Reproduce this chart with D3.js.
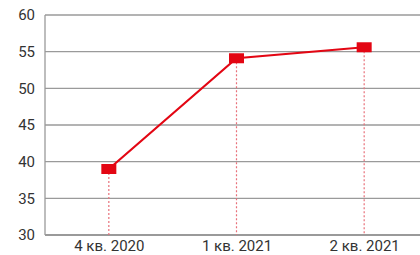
<!DOCTYPE html>
<html>
<head>
<meta charset="utf-8">
<script src="https://cdn.jsdelivr.net/npm/d3@7"></script>
<style>
  body { margin: 0; background: #fff; }
  text { font-family: "Roboto", "DejaVu Sans", sans-serif; fill: #333; }
</style>
</head>
<body>
<div id="chart"></div>
<script>
var quarters = ["4 кв. 2020", "1 кв. 2021", "2 кв. 2021"];
var values = [39.0, 54.1, 55.6];
var yTicks = [30, 35, 40, 45, 50, 55, 60];

var svgWidth = 420;
var svgHeight = 255;
var margin = { top: 15, right: -8, bottom: 20, left: 45 };
var width = svgWidth - margin.left - margin.right;
var height = svgHeight - margin.top - margin.bottom;

var svg = d3.select("#chart")
  .append("svg")
  .attr("width", svgWidth)
  .attr("height", svgHeight);

var chartGroup = svg.append("g")
  .attr("transform", `translate(${margin.left}, ${margin.top})`);

var xScale = d3.scalePoint()
  .domain(quarters)
  .range([0, width])
  .padding(0.5);

var yScale = d3.scaleLinear()
  .domain([30, 60])
  .range([height, 0]);

// gridlines
chartGroup.append("g")
  .selectAll("line")
  .data(yTicks)
  .enter()
  .append("line")
  .attr("x1", 0)
  .attr("x2", width)
  .attr("y1", d => yScale(d))
  .attr("y2", d => yScale(d))
  .attr("stroke", "#9a9a9a")
  .attr("stroke-width", d => d === 30 ? 2 : 1.3);

// left axis line
chartGroup.append("line")
  .attr("x1", 0).attr("x2", 0)
  .attr("y1", yScale(60)).attr("y2", yScale(30))
  .attr("stroke", "#9a9a9a")
  .attr("stroke-width", 1.3);

// y labels
var leftAxis = d3.axisLeft(yScale).tickValues(yTicks).tickSize(0).tickPadding(10);
var yAxisG = chartGroup.append("g").call(leftAxis);
yAxisG.select(".domain").remove();
yAxisG.selectAll("text").style("font-size", "15px").attr("fill", "#333");

// x labels
var bottomAxis = d3.axisBottom(xScale).tickSize(0).tickPadding(5);
var xAxisG = chartGroup.append("g")
  .attr("transform", `translate(0, ${height})`)
  .call(bottomAxis);
xAxisG.select(".domain").remove();
xAxisG.selectAll("text").style("font-size", "15px").attr("fill", "#333");

// dotted drop lines
chartGroup.selectAll(".drop")
  .data(values)
  .enter()
  .append("line")
  .attr("class", "drop")
  .attr("x1", (d, i) => xScale(quarters[i]))
  .attr("x2", (d, i) => xScale(quarters[i]))
  .attr("y1", d => yScale(d))
  .attr("y2", height)
  .attr("stroke", "#e8707a")
  .attr("stroke-width", 1.2)
  .attr("stroke-dasharray", "2,2");

// line
var line = d3.line()
  .x((d, i) => xScale(quarters[i]))
  .y(d => yScale(d));

chartGroup.append("path")
  .datum(values)
  .attr("d", line)
  .attr("fill", "none")
  .attr("stroke", "#e30613")
  .attr("stroke-width", 2.2);

// markers
chartGroup.selectAll(".marker")
  .data(values)
  .enter()
  .append("rect")
  .attr("class", "marker")
  .attr("x", (d, i) => xScale(quarters[i]) - 7.5)
  .attr("y", d => yScale(d) - 5)
  .attr("width", 15)
  .attr("height", 10)
  .attr("fill", "#e30613");
</script>
</body>
</html>
